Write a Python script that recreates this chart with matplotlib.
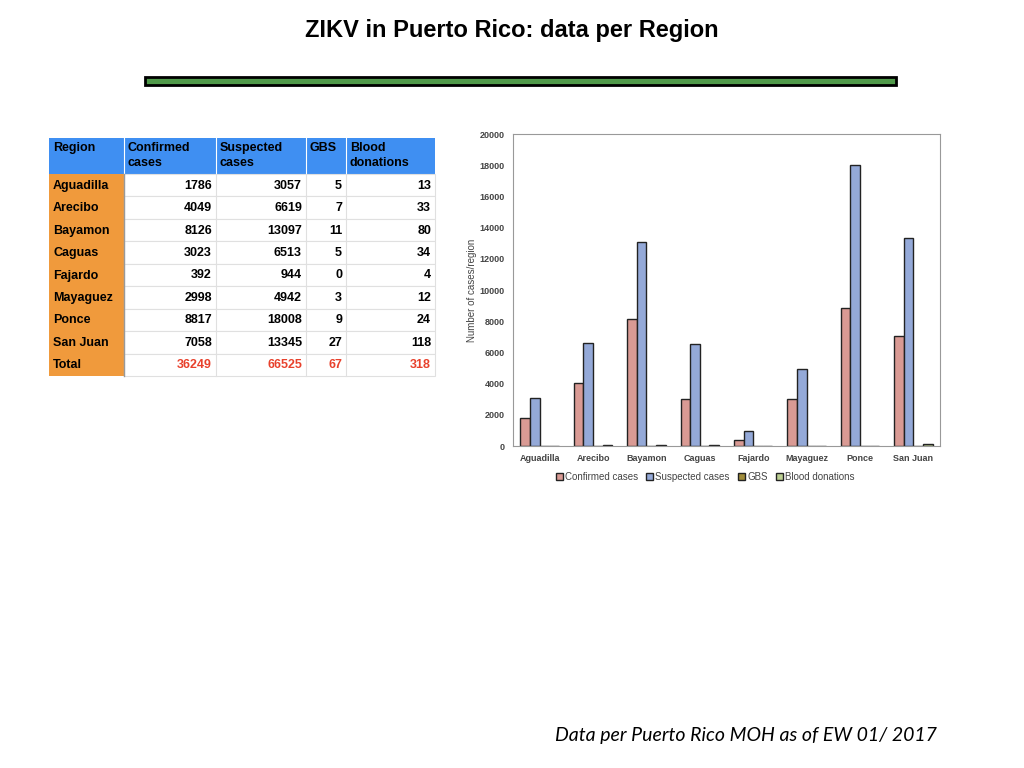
import matplotlib.pyplot as plt
from matplotlib.patches import Rectangle
import numpy as np

plt.rcParams['font.family'] = ['Liberation Sans', 'DejaVu Sans']

# data
regions = ['Aguadilla', 'Arecibo', 'Bayamon', 'Caguas', 'Fajardo',
           'Mayaguez', 'Ponce', 'San Juan']
confirmed = [1786, 4049, 8126, 3023, 392, 2998, 8817, 7058]
suspected = [3057, 6619, 13097, 6513, 944, 4942, 18008, 13345]
gbs = [5, 7, 11, 5, 0, 3, 9, 27]
blood = [13, 33, 80, 34, 4, 12, 24, 118]
headers = ['Region', 'Confirmed\ncases', 'Suspected\ncases', 'GBS', 'Blood\ndonations']
series_names = ['Confirmed cases', 'Suspected cases', 'GBS', 'Blood donations']
colors = ['#d99a94', '#94a9d8', '#a08c3a', '#bccf92']

fig = plt.figure(figsize=(10.24, 7.68), dpi=100)

# background axes in pixel coordinates for slide elements
bg = fig.add_axes([0, 0, 1, 1])
bg.set_xlim(0, 1024)
bg.set_ylim(768, 0)
bg.axis('off')

bg.text(512, 30, 'ZIKV in Puerto Rico: data per Region', ha='center', va='center',
        fontsize=17, fontweight='bold')
bg.add_patch(Rectangle((145, 77), 751, 8, facecolor='#509a4a', edgecolor='black', lw=2))

# table
col_x = [49, 124, 216, 306, 346, 435]
head_top, head_bot = 138, 174
row_h = (376 - 174) / 9
bg.add_patch(Rectangle((col_x[0], head_top), col_x[-1] - col_x[0], head_bot - head_top,
                       facecolor='#3f8ff2', edgecolor='none'))
for j, h in enumerate(headers):
    bg.text(col_x[j] + 4, head_top + 4, h, ha='left', va='top', fontsize=9,
            fontweight='bold', linespacing=1.3)
for j in range(1, 5):
    bg.plot([col_x[j], col_x[j]], [head_top, head_bot], color='white', lw=0.8)

rows = [[r, c, s, g, b] for r, c, s, g, b in zip(regions, confirmed, suspected, gbs, blood)]
rows.append(['Total', sum(confirmed), sum(suspected), sum(gbs), sum(blood)])
for i, row in enumerate(rows):
    y0 = head_bot + i * row_h
    bg.add_patch(Rectangle((col_x[0], y0), col_x[1] - col_x[0], row_h,
                           facecolor='#f09a3c', edgecolor='none'))
    bg.add_patch(Rectangle((col_x[1], y0), col_x[-1] - col_x[1], row_h,
                           facecolor='white', edgecolor='#e0e0e0', lw=0.8))
    for j in range(2, 5):
        bg.plot([col_x[j], col_x[j]], [y0, y0 + row_h], color='#e0e0e0', lw=0.8)
    color = '#e8412c' if row[0] == 'Total' else 'black'
    bg.text(col_x[0] + 4, y0 + row_h / 2 + 0.5, row[0], ha='left', va='center',
            fontsize=9, fontweight='bold')
    for j in range(1, 5):
        bg.text(col_x[j + 1] - 4, y0 + row_h / 2 + 0.5, str(row[j]), ha='right',
                va='center', fontsize=9, fontweight='bold', color=color)
bg.plot([col_x[1], col_x[1]], [head_bot, 376], color='#999999', lw=1)

bg.text(937, 736, 'Data per Puerto Rico MOH as of EW 01/ 2017', ha='right', va='center',
        fontsize=14, style='italic', family=['Lato', 'DejaVu Sans'])

# bar chart
ax = fig.add_axes([513 / 1024, (768 - 446) / 768, 427 / 1024, 312 / 768])
x = np.arange(len(regions))
w = 0.18
for k, (vals, col) in enumerate(zip([confirmed, suspected, gbs, blood], colors)):
    ax.bar(x + (k - 1.5) * w, vals, w, color=col, edgecolor='#222222', lw=1.0,
           label=series_names[k])
ax.set_xlim(-0.5, len(regions) - 0.5)
ax.set_ylim(0, 20000)
ax.set_yticks(range(0, 20001, 2000))
ax.set_xticks(x)
ax.set_xticklabels(regions)
ax.tick_params(axis='both', labelsize=6.5, labelcolor='#444444', length=0, pad=6)
for lab in ax.get_xticklabels() + ax.get_yticklabels():
    lab.set_fontweight('bold')
ax.set_ylabel('Number of cases/region', fontsize=7, color='#444444', labelpad=2)
for s in ax.spines.values():
    s.set_color('#999999')
leg = ax.legend(loc='upper center', bbox_to_anchor=(0.45, -0.055), ncol=4, frameon=False,
                fontsize=7, handlelength=0.7, handleheight=0.7, handletextpad=0.2,
                columnspacing=0.9, labelcolor='#444444')

fig.savefig('out.png', dpi=100)
